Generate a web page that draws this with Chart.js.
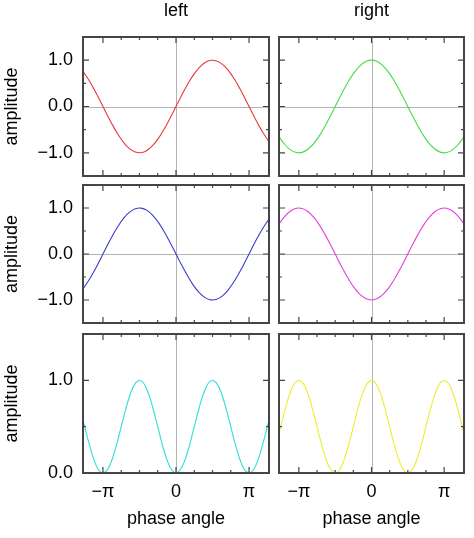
<!DOCTYPE html>
<html>
<head>
<meta charset="utf-8">
<script src="https://cdn.jsdelivr.net/npm/chart.js@4"></script>
<style>
body{margin:0;background:#fff;}
#wrap{position:relative;width:474px;height:538px;overflow:hidden;}
#wrap canvas{position:absolute;}
</style>
</head>
<body>
<div id="wrap">
<canvas id="c11"></canvas><canvas id="c12"></canvas>
<canvas id="c21"></canvas><canvas id="c22"></canvas>
<canvas id="c31"></canvas><canvas id="c32"></canvas>
</div>
<script>
// sample positions (phase angle, radians)
const xs = [-4,-3.75,-3.5,-3.25,-3,-2.75,-2.5,-2.25,-2,-1.75,-1.5,-1.25,-1,-0.75,-0.5,-0.25,0,
  0.25,0.5,0.75,1,1.25,1.5,1.75,2,2.25,2.5,2.75,3,3.25,3.5,3.75,4];

// values
const redVals = [0.757,0.572,0.351,0.108,-0.141,-0.382,-0.598,-0.778,-0.909,-0.984,-0.997,-0.949,-0.841,-0.682,-0.479,-0.247,0,
  0.247,0.479,0.682,0.841,0.949,0.997,0.984,0.909,0.778,0.598,0.382,0.141,-0.108,-0.351,-0.572,-0.757];
const greenVals = [-0.654,-0.820,-0.936,-0.994,-0.990,-0.924,-0.801,-0.628,-0.416,-0.178,0.071,0.315,0.540,0.732,0.878,0.969,1,
  0.969,0.878,0.732,0.540,0.315,0.071,-0.178,-0.416,-0.628,-0.801,-0.924,-0.990,-0.994,-0.936,-0.820,-0.654];
const blueVals = [-0.757,-0.572,-0.351,-0.108,0.141,0.382,0.598,0.778,0.909,0.984,0.997,0.949,0.841,0.682,0.479,0.247,0,
  -0.247,-0.479,-0.682,-0.841,-0.949,-0.997,-0.984,-0.909,-0.778,-0.598,-0.382,-0.141,0.108,0.351,0.572,0.757];
const magentaVals = [0.654,0.820,0.936,0.994,0.990,0.924,0.801,0.628,0.416,0.178,-0.071,-0.315,-0.540,-0.732,-0.878,-0.969,-1,
  -0.969,-0.878,-0.732,-0.540,-0.315,-0.071,0.178,0.416,0.628,0.801,0.924,0.990,0.994,0.936,0.820,0.654];
const cyanVals = [0.573,0.327,0.123,0.012,0.020,0.146,0.358,0.605,0.826,0.968,0.994,0.901,0.707,0.465,0.229,0.061,0,
  0.061,0.229,0.465,0.707,0.901,0.994,0.968,0.826,0.605,0.358,0.146,0.020,0.012,0.123,0.327,0.573];
const yellowVals = [0.427,0.673,0.877,0.988,0.980,0.854,0.642,0.395,0.174,0.032,0.006,0.099,0.293,0.535,0.771,0.939,1,
  0.939,0.771,0.535,0.293,0.099,0.006,0.032,0.174,0.395,0.642,0.854,0.980,0.988,0.877,0.673,0.427];

// ticks
const xMajorTicks = [-Math.PI, 0, Math.PI];
const xTickLabels = ['\u2212\u03c0', '0', '\u03c0'];
const xMinorTicks = [-3*Math.PI/4, -Math.PI/2, -Math.PI/4, Math.PI/4, Math.PI/2, 3*Math.PI/4];
const yMajorTicks = [-1, 0, 1];
const yMinorTicks = [-0.5, 0.5];

const FONT = {family:'"Liberation Sans", Arial, sans-serif', size:18};
const FRAME = '#454545';

// scale padding from tick labels would push the plot area around, so drop it
function noPad(s){ s.paddingTop = s.paddingBottom = s.paddingLeft = s.paddingRight = 0; }

const framePlugin = {
  id:'frame',
  beforeDatasetsDraw(chart){
    const {ctx, chartArea:a, scales:{x, y}} = chart;
    ctx.save();
    ctx.strokeStyle = '#b4b4b4';
    ctx.lineWidth = 1;
    ctx.beginPath();
    const x0 = Math.round(x.getPixelForValue(0)) + 0.5;
    ctx.moveTo(x0, a.top); ctx.lineTo(x0, a.bottom);
    if (y.min < 0) {
      const y0 = Math.round(y.getPixelForValue(0)) + 0.5;
      ctx.moveTo(a.left, y0); ctx.lineTo(a.right, y0);
    }
    ctx.stroke();
    ctx.restore();
  },
  afterDatasetsDraw(chart){
    const {ctx, chartArea:a, scales:{x, y}} = chart;
    ctx.save();
    ctx.strokeStyle = FRAME;
    ctx.lineWidth = 1.2;
    ctx.beginPath();
    const tick = (v, len, horiz) => {
      if (horiz) {
        const p = x.getPixelForValue(v);
        ctx.moveTo(p, a.bottom); ctx.lineTo(p, a.bottom - len);
        ctx.moveTo(p, a.top); ctx.lineTo(p, a.top + len);
      } else {
        const p = y.getPixelForValue(v);
        if (p >= a.bottom - 1 || p <= a.top + 1) return;
        ctx.moveTo(a.left, p); ctx.lineTo(a.left + len, p);
        ctx.moveTo(a.right, p); ctx.lineTo(a.right - len, p);
      }
    };
    xMajorTicks.forEach(v => tick(v, 6, true));
    xMinorTicks.forEach(v => tick(v, 3, true));
    yMajorTicks.forEach(v => tick(v, 6, false));
    yMinorTicks.forEach(v => tick(v, 3, false));
    ctx.stroke();
    ctx.lineWidth = 2;
    ctx.strokeRect(a.left, a.top, a.right - a.left, a.bottom - a.top);
    ctx.restore();
  }
};

function panel(id, vals, color, opt){
  const cv = document.getElementById(id);
  cv.width = opt.w; cv.height = opt.h;
  cv.style.left = opt.left + 'px'; cv.style.top = opt.top + 'px';
  cv.style.width = opt.w + 'px'; cv.style.height = opt.h + 'px';
  const scales = {
    x:{
      type:'linear', min:-4, max:4,
      display: opt.bottom,
      grid:{display:false, drawTicks:false, tickLength:0},
      border:{display:false},
      afterBuildTicks: s => { s.ticks = xMajorTicks.map(v => ({value:v})); },
      afterFit: s => { s.height = opt.bottom ? 60 : 0; noPad(s); },
      ticks:{
        font:FONT, color:'#000', padding:8, maxRotation:0, autoSkip:false,
        callback: (v, i) => xTickLabels[i]
      },
      title:{display:true, text:'phase angle', font:FONT, color:'#000', padding:{top:0, bottom:3}}
    },
    y:{
      type:'linear', min:opt.ymin, max:1.5,
      display: opt.leftCol,
      grid:{display:false, drawTicks:false, tickLength:0},
      border:{display:false},
      afterBuildTicks: s => { s.ticks = yMajorTicks.filter(v => v >= opt.ymin).map(v => ({value:v})); },
      afterFit: s => { s.width = opt.leftCol ? 83 : 0; noPad(s); },
      ticks:{
        font:FONT, color:'#000', padding:10,
        callback: v => v.toFixed(1).replace('-', '\u2212')
      },
      title:{display:true, text:'amplitude', font:FONT, color:'#000', padding:{top:1, bottom:0}}
    }
  };
  if (opt.title) {
    scales.xt = {
      type:'linear', min:-4, max:4, position:'top', axis:'x',
      grid:{display:false, drawTicks:false, tickLength:0},
      border:{display:false},
      ticks:{display:false},
      afterFit: s => { s.height = 37; noPad(s); },
      title:{display:true, text:opt.title, font:FONT, color:'#000', padding:{top:0, bottom:0}}
    };
  }
  return new Chart(cv, {
    type:'line',
    data:{
      datasets:[{
        data: xs.map((x, i) => ({x, y: vals[i]})),
        borderColor: color,
        borderWidth: 1.1,
        pointRadius: 0,
        tension: 0.4,
        fill: false
      }]
    },
    options:{
      responsive:false,
      animation:false,
      events:[],
      layout:{padding:opt.pad},
      plugins:{legend:{display:false}, tooltip:{enabled:false}},
      scales
    },
    plugins:[framePlugin]
  });
}

const L = {left:0, w:274}, R = {left:274, w:200};
panel('c11', redVals, '#e8383c', {...L, top:0, h:181, ymin:-1.5, leftCol:true, bottom:false, title:'left', pad:{top:0, bottom:5, left:0, right:5}});
panel('c12', greenVals, '#44dd44', {...R, top:0, h:181, ymin:-1.5, leftCol:false, bottom:false, title:'right', pad:{top:0, bottom:5, left:5, right:10}});
panel('c21', blueVals, '#3c3cd0', {...L, top:181, h:147, ymin:-1.5, leftCol:true, bottom:false, pad:{top:4, bottom:5, left:0, right:5}});
panel('c22', magentaVals, '#e040e0', {...R, top:181, h:147, ymin:-1.5, leftCol:false, bottom:false, pad:{top:4, bottom:5, left:5, right:10}});
panel('c31', cyanVals, '#30dcdc', {...L, top:328, h:210, ymin:0, leftCol:true, bottom:true, pad:{top:6, bottom:5, left:0, right:5}});
panel('c32', yellowVals, '#ecec30', {...R, top:328, h:210, ymin:0, leftCol:false, bottom:true, pad:{top:6, bottom:5, left:5, right:10}});
</script>
</body>
</html>
